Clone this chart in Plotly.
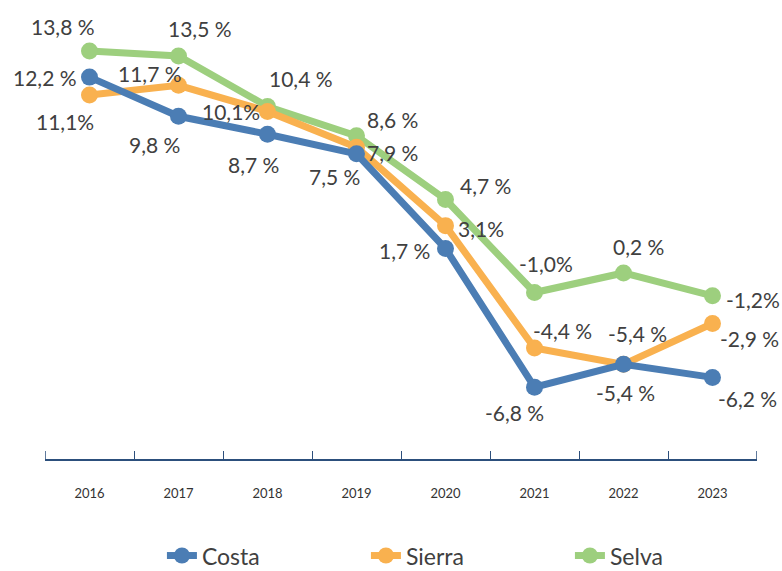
import plotly.graph_objects as go

years = ["2016", "2017", "2018", "2019", "2020", "2021", "2022", "2023"]
costa = [12.2, 9.8, 8.7, 7.5, 1.7, -6.8, -5.4, -6.2]
sierra = [11.1, 11.7, 10.1, 7.9, 3.1, -4.4, -5.4, -2.9]
selva = [13.8, 13.5, 10.4, 8.6, 4.7, -1.0, 0.2, -1.2]

# label texts as printed in the source
costa_txt = ["12,2 %", "9,8 %", "8,7 %", "7,5 %", "1,7 %", "-6,8 %", "-5,4 %", "-6,2 %"]
sierra_txt = ["11,1%", "11,7 %", "10,1%", "7,9 %", "3,1%", "-4,4 %", "-5,4 %", "-2,9 %"]
selva_txt = ["13,8 %", "13,5 %", "10,4 %", "8,6 %", "4,7 %", "-1,0%", "0,2 %", "-1,2%"]

# pixel offsets of each label from its point
costa_off = [(-45, 0), (-24, -28), (-14, -30), (-22, -23), (-41, -2), (-20, -25), (2, -28), (35, -21)]
sierra_off = [(-25, -26), (-29, 12), (-37, 0), (36, -5), (35, -3), (28, 18), (14, 31), (37, -15)]
selva_off = [(-27, 25), (21, 27), (33, 28), (36, 16), (40, 14), (11, 29), (15, 26), (40, -4)]

series = [
    ("Costa", costa, costa_txt, costa_off, "#4b7db4"),
    ("Sierra", sierra, sierra_txt, sierra_off, "#f9b14f"),
    ("Selva", selva, selva_txt, selva_off, "#9dcf7e"),
]

axis_col = "#2c4f7c"

fig = go.Figure()
annotations = []
for name, vals, txt, off, col in series[::-1]:
    fig.add_trace(go.Scatter(
        x=years, y=vals, name=name, mode="lines+markers",
        line=dict(color=col, width=7),
        marker=dict(color=col, size=17),
    ))
    # category index, since "2016" would be read as a position
    for i, (y, t, (dx, dy)) in enumerate(zip(vals, txt, off)):
        annotations.append(dict(
            x=i, y=y, text=t, showarrow=False, xshift=dx, yshift=dy,
            font=dict(size=21, color="#404040", family="Lato"),
        ))

# plotly skips the boundary ticks at both ends of the axis, so add them
for edge in (-0.5, len(years) - 0.5):
    fig.add_shape(type="line", xref="x", yref="paper", x0=edge, x1=edge,
                  y0=0, y1=0.018, line=dict(color=axis_col, width=1.5))

fig.update_layout(
    width=782, height=571,
    margin=dict(l=45, r=25, t=20, b=112, autoexpand=False),
    plot_bgcolor="white", paper_bgcolor="white",
    font=dict(family="Lato", color="#333333"),
    annotations=annotations,
    showlegend=True,
    legend=dict(
        orientation="h", x=0.594, xanchor="center", y=-0.22, yanchor="middle",
        font=dict(size=23, color="#404040"), traceorder="reversed",
        entrywidth=159,
    ),
    xaxis=dict(
        type="category", tickson="boundaries", ticks="inside", ticklen=8,
        tickcolor=axis_col, showline=True, linecolor=axis_col, linewidth=1.5,
        showgrid=False, tickfont=dict(size=13, color="#333333"),
        ticklabelstandoff=22, range=[-0.5, 7.5],
    ),
    yaxis=dict(
        range=[-11.2, 15.7], showgrid=False, zeroline=False,
        showticklabels=False, showline=False,
    ),
)

# drop the page's default body margin so the figure sits at the window corner
fig.write_html("out.html", config={"displayModeBar": False},
               post_script="document.body.style.margin='0';")
